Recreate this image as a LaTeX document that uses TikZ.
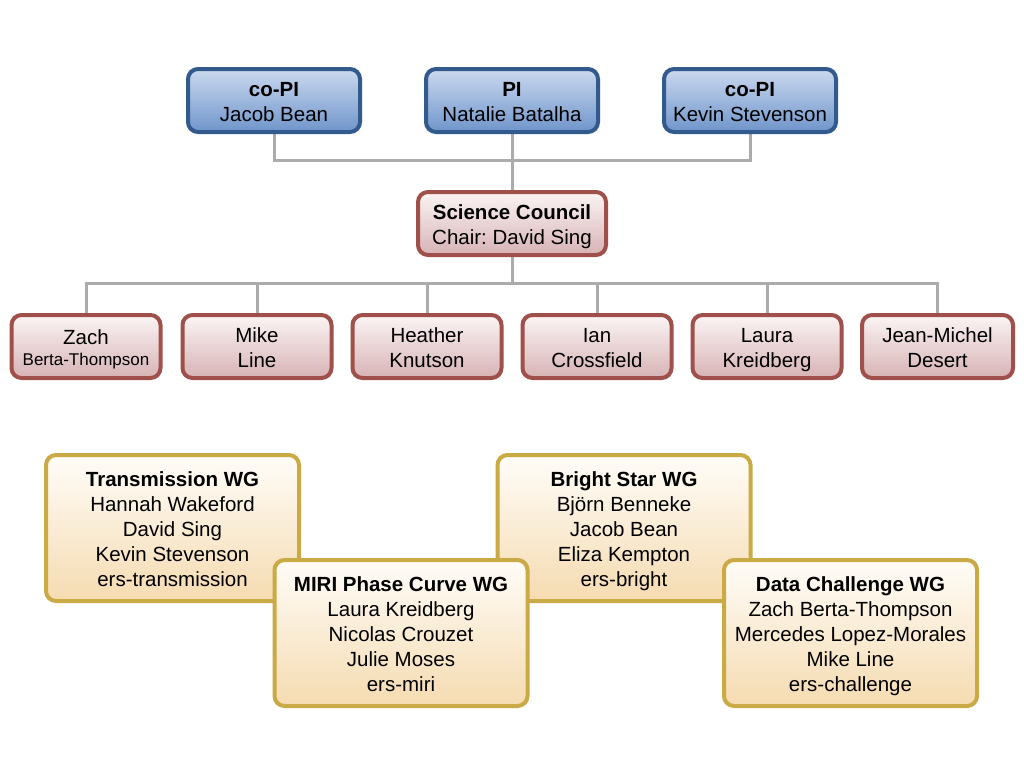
\documentclass[tikz,border=0pt]{standalone}
\usepackage{fontspec}
\setmainfont{Liberation Sans}
\usepackage{xcolor}
\usepackage{tikz}
\usetikzlibrary{backgrounds}
\frenchspacing

\definecolor{piedge}{HTML}{325A8C}
\definecolor{pitop}{HTML}{CBD9EE}
\definecolor{pibot}{HTML}{6F95CB}
\definecolor{scedge}{HTML}{A0504A}
\definecolor{sctop}{HTML}{FBF4F4}
\definecolor{scbot}{HTML}{D7B3B5}
\definecolor{wgedge}{HTML}{C9AA45}
\definecolor{wgtop}{HTML}{FFFDF9}
\definecolor{wgbot}{HTML}{F5DBB0}
\definecolor{linkgray}{HTML}{ABABAB}

% fixed height of the first line and depth of the last line in every box
\newcommand{\topstrut}{\rule{0pt}{20.3pt}}
\newcommand{\botstrut}{\rule[-4.3pt]{0pt}{4.3pt}}

\begin{document}
\begin{tikzpicture}[x=1pt, y=-1pt,
    every node/.style={font=\fontsize{20.5}{25}\selectfont, align=center, inner sep=0pt},
    box/.style={rounded corners=10pt, line width=4pt},
    pibox/.style={box, draw=piedge, top color=pitop, bottom color=pibot, minimum width=172pt, minimum height=63pt},
    scbox/.style={box, draw=scedge, top color=sctop, bottom color=scbot, minimum width=149pt, minimum height=63pt},
    wgbox/.style={box, draw=wgedge, top color=wgtop, bottom color=wgbot, minimum width=253pt, minimum height=146pt},
    link/.style={draw=linkgray, line width=3pt}]
    \useasboundingbox (0,0) rectangle (1024,768);

    % Draw PI and co-PIs
    \node[pibox] (copia) at (274,100.5) {\topstrut\textbf{co-PI}\\Jacob Bean\botstrut};
    \node[pibox] (pi) at (512,100.5) {\topstrut\textbf{PI}\\Natalie Batalha\botstrut};
    \node[pibox] (copib) at (750,100.5) {\topstrut\textbf{co-PI}\\Kevin Stevenson\botstrut};

    % Draw Science Council and its members
    \node[scbox, minimum width=188pt] (council) at (512,223.5) {\topstrut\textbf{Science Council}\\Chair: David Sing\botstrut};
    \node[scbox] (m1) at (86,346.5)
        {\rule{0pt}{21.5pt}Zach\\[-4pt]{\fontsize{17}{20}\selectfont Berta-Thompson\botstrut}};
    \foreach \n/\x/\label in {2/257/Mike\\Line, 3/427/Heather\\Knutson, 4/597/Ian\\Crossfield, 5/767/Laura\\Kreidberg} {
        \node[scbox] (m\n) at (\x,346.5) {\topstrut\label\botstrut};
    }
    \node[scbox, minimum width=151pt] (m6) at (937.5,346.5) {\topstrut Jean-Michel\\Desert\botstrut};

    % Draw connectors behind the boxes
    \begin{pgfonlayer}{background}
        \coordinate (bus1) at (512,160);
        \coordinate (bus2) at (512,283);
        \draw[link] (copia.south) |- (bus1) -| (copib.south);
        \draw[link] (pi.south) -- (council.north);
        \draw[link] (council.south) -- (bus2);
        \draw[link] (m1.north) |- (bus2) -| (m6.north);
        \foreach \n in {2,3,4,5} {
            \draw[link] (m\n.north) -- (m\n.north |- bus2);
        }
    \end{pgfonlayer}

    % Draw working groups
    \node[wgbox] (trans) at (172.5,528) {\topstrut\textbf{Transmission WG}\\Hannah Wakeford\\David Sing\\Kevin Stevenson\\ers-transmission\botstrut};
    \node[wgbox] (bright) at (624,528) {\topstrut\textbf{Bright Star WG}\\Björn Benneke\\Jacob Bean\\Eliza Kempton\\ers-bright\botstrut};
    \node[wgbox] (miri) at (401,633) {\topstrut\textbf{MIRI Phase Curve WG}\\Laura Kreidberg\\Nicolas Crouzet\\Julie Moses\\ers-miri\botstrut};
    \node[wgbox] (data) at (850.5,633) {\topstrut\textbf{Data Challenge WG}\\Zach Berta-Thompson\\Mercedes Lopez-Morales\\Mike Line\\ers-challenge\botstrut};
\end{tikzpicture}
\end{document}
